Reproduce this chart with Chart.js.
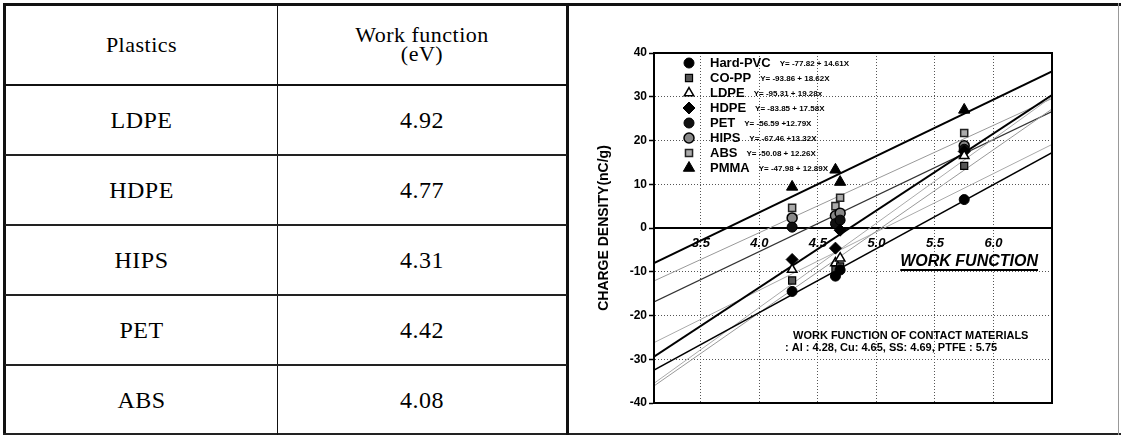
<!DOCTYPE html>
<html>
<head>
<meta charset="utf-8">
<script src="https://cdn.jsdelivr.net/npm/chart.js@4.4.0/dist/chart.umd.min.js"></script>
<style>
  html, body { margin: 0; padding: 0; background: #fff; }
  #page { position: relative; width: 1121px; height: 436px; overflow: hidden; background: #fff; }
  .ln { position: absolute; background: #111; }
  .cell {
    position: absolute; display: flex; align-items: center; justify-content: center;
    font-family: "Liberation Serif", "Times New Roman", serif; font-size: 24px; color: #000;
    letter-spacing: 0.5px; text-align: center; line-height: 0.85;
  }
  .head { font-size: 22px; }
  #chartBox { position: absolute; left: 570px; top: 7px; width: 546px; height: 425px; }
</style>
</head>
<body>
<div id="page">
  <div id="table"></div>
  <div id="chartBox"><canvas id="chargeChart" width="546" height="425"></canvas></div>
</div>
<script>
// tabela da esquerda
const tableHeaders = ["Plastics", "Work function<br>(eV)"];
const plastics = ["LDPE", "HDPE", "HIPS", "PET", "ABS"];
const workFunctions = ["4.92", "4.77", "4.31", "4.42", "4.08"];

// grafico: x = work function dos materiais de contato (Al, Cu, SS, PTFE)
const contactWF = [4.28, 4.65, 4.69, 5.75];
const seriesNames = ["Hard-PVC", "CO-PP", "LDPE", "HDPE", "PET", "HIPS", "ABS", "PMMA"];
const fitEquations = [
  "Y= -77.82 + 14.61X", "Y= -93.86 + 18.62X", "Y= -95.31 + 19.28x", "Y= -83.85 + 17.58X",
  "Y= -56.59 +12.79X", "Y= -67.46 +13.32X", "Y= -50.08 + 12.26X", "Y= -47.98 + 12.89X"
];
const hardPvc = [-14.5, -11.0, -9.6, 6.5];
const coPp = [-12.0, -9.5, -8.8, 14.2];
const ldpe = [-9.5, -8.0, -6.9, 16.5];
const hdpe = [-7.2, -4.6, -0.5, 17.5];
const pet = [0.2, 1.0, 1.8, 18.0];
const hips = [2.3, 2.8, 3.4, 18.8];
const abs = [4.6, 5.0, 6.9, 21.7];
const pmma = [9.4, 13.3, 10.5, 27.0];

const fitRange = [3.1, 6.5];
const hardPvcFit = [-32.5, 17.2];
const coPpFit = [-36.1, 27.2];
const ldpeFit = [-35.5, 30.0];
const hdpeFit = [-29.4, 30.4];
const petFit = [-16.9, 26.6];
const hipsFit = [-26.2, 19.1];
const absFit = [-12.1, 29.6];
const pmmaFit = [-8.0, 35.8];

const xTicks = [3.5, 4.0, 4.5, 5.0, 5.5, 6.0];
const yTicks = [-40, -30, -20, -10, 0, 10, 20, 30, 40];
const noteLines = ["WORK FUNCTION OF CONTACT MATERIALS", ": Al : 4.28, Cu: 4.65, SS: 4.69, PTFE : 5.75"];

const seriesValues = [hardPvc, coPp, ldpe, hdpe, pet, hips, abs, pmma];
const fitLines = [hardPvcFit, coPpFit, ldpeFit, hdpeFit, petFit, hipsFit, absFit, pmmaFit];

// monta a tabela
const page = document.getElementById("table");
function addDiv(cls, left, top, w, h, html, bg) {
  const d = document.createElement("div");
  d.className = cls;
  d.style.left = left + "px"; d.style.top = top + "px";
  d.style.width = w + "px"; d.style.height = h + "px";
  if (html) d.innerHTML = html;
  if (bg) d.style.background = bg;
  page.appendChild(d);
}
addDiv("cell head", 6, 6, 271, 78, tableHeaders[0]);
addDiv("cell head", 278, 6, 288, 78, tableHeaders[1]);
plastics.forEach((p, i) => {
  addDiv("cell", 6, 86 + i * 70, 271, 68, p);
  addDiv("cell", 278, 86 + i * 70, 288, 68, workFunctions[i]);
});
addDiv("ln", 3, 3, 1118, 3);
addDiv("ln", 3, 3, 3, 432);
addDiv("ln", 3, 433, 1118, 2, "", "#222");
addDiv("ln", 566, 3, 3, 432);
addDiv("ln", 1118, 3, 1, 432, "", "#999");
addDiv("ln", 277, 5, 1, 430);
addDiv("ln", 5, 84, 562, 2);
[154, 224, 294, 364].forEach(y => addDiv("ln", 5, y, 562, 2, "", "#222"));

// estilos dos marcadores e das retas
const markerStyle = [
  ["circle", 5, "#000", "#000", 1],
  ["rect", 5, "#555", "#000", 1.2],
  ["triangle", 5.5, "#fff", "#000", 1.5],
  ["rectRot", 6, "#000", "#000", 1],
  ["circle", 5, "#111", "#000", 1],
  ["circle", 5, "#888", "#000", 1.5],
  ["rect", 5, "#aaa", "#222", 1.5],
  ["triangle", 6.5, "#000", "#000", 1]
];
const lineStyle = [["#000", 1.5], ["#999", 1], ["#aaa", 1], ["#000", 2], ["#333", 1.2], ["#aaa", 1], ["#999", 1], ["#000", 2]];

const datasets = [];
seriesNames.forEach((name, i) => {
  const m = markerStyle[i];
  datasets.push({
    label: name,
    data: contactWF.map((x, j) => ({ x: x, y: seriesValues[i][j] })),
    showLine: false,
    pointStyle: m[0],
    pointRadius: m[1],
    pointBackgroundColor: m[2],
    pointBorderColor: m[3],
    pointBorderWidth: m[4],
    order: 0
  });
  datasets.push({
    label: name + " fit",
    data: fitRange.map((x, j) => ({ x: x, y: fitLines[i][j] })),
    showLine: true,
    pointRadius: 0,
    borderColor: lineStyle[i][0],
    borderWidth: lineStyle[i][1],
    order: 1
  });
});

const sans = "'Liberation Sans', Arial, sans-serif";

// legenda dentro da area do grafico
const innerLegend = {
  id: "innerLegend",
  afterDraw(chart) {
    const { ctx, chartArea } = chart;
    ctx.save();
    seriesNames.forEach((name, i) => {
      const y = chartArea.top + 10 + i * 15;
      const mx = chartArea.left + 35;
      const m = markerStyle[i];
      ctx.fillStyle = m[2];
      ctx.strokeStyle = m[3];
      ctx.lineWidth = m[4];
      if (Chart.helpers && Chart.helpers.drawPoint) {
        Chart.helpers.drawPoint(ctx, { pointStyle: m[0], radius: m[1], rotation: 0, borderWidth: m[4] }, mx, y);
      } else {
        ctx.beginPath(); ctx.arc(mx, y, m[1], 0, Math.PI * 2); ctx.fill(); ctx.stroke();
      }
      ctx.fillStyle = "#000";
      ctx.textBaseline = "middle";
      ctx.textAlign = "left";
      ctx.font = "bold 13px " + sans;
      const nx = chartArea.left + 56;
      ctx.fillText(name, nx, y);
      const w = ctx.measureText(name).width;
      ctx.font = "bold 8px " + sans;
      ctx.fillText(fitEquations[i], nx + w + 9, y + 1);
    });
    ctx.restore();
  }
};

// textos: WORK FUNCTION e nota dos materiais
const notes = {
  id: "notes",
  afterDraw(chart) {
    const { ctx, chartArea } = chart;
    ctx.save();
    ctx.fillStyle = "#000";
    ctx.strokeStyle = "#000";
    ctx.font = "italic bold 16px " + sans;
    ctx.textAlign = "right";
    ctx.textBaseline = "middle";
    const rx = chartArea.right - 14;
    const ty = chartArea.top + 209;
    ctx.fillText("WORK FUNCTION", rx, ty);
    const tw = ctx.measureText("WORK FUNCTION").width;
    ctx.lineWidth = 2;
    ctx.beginPath();
    ctx.moveTo(rx - tw, ty + 8);
    ctx.lineTo(rx, ty + 8);
    ctx.stroke();
    ctx.font = "bold 11px " + sans;
    ctx.textAlign = "left";
    ctx.fillText(noteLines[0], chartArea.left + 139, chartArea.top + 283);
    ctx.fillText(noteLines[1], chartArea.left + 131, chartArea.top + 295);
    // moldura do grafico
    ctx.lineWidth = 2;
    ctx.strokeRect(chartArea.left, chartArea.top, chartArea.right - chartArea.left, chartArea.bottom - chartArea.top);
    ctx.restore();
  }
};

const chargeCtx = document.getElementById("chargeChart").getContext("2d");
const chargeChart = new Chart(chargeCtx, {
  type: "scatter",
  data: { datasets: datasets },
  options: {
    responsive: false,
    animation: false,
    layout: { padding: { left: 26, top: 46, right: 64, bottom: 29 } },
    plugins: {
      legend: { display: false },
      tooltip: { enabled: false }
    },
    scales: {
      x: {
        type: "linear",
        min: 3.1,
        max: 6.5,
        position: { y: 0 },
        afterBuildTicks: s => { s.ticks = xTicks.map(v => ({ value: v })); },
        grid: { color: "#555", lineWidth: 1, drawTicks: false },
        border: { display: true, color: "#000", width: 2, dash: [1, 2] },
        ticks: {
          color: "#000",
          padding: 8,
          autoSkip: false,
          maxRotation: 0,
          font: { family: sans, size: 13, weight: "bold", style: "italic" },
          callback: v => Number(v).toFixed(1)
        }
      },
      y: {
        type: "linear",
        min: -40,
        max: 40,
        afterBuildTicks: s => { s.ticks = yTicks.map(v => ({ value: v })); },
        afterFit: s => { s.width = 58; },
        grid: { color: "#555", lineWidth: 1, tickLength: 5, tickColor: "#000", tickWidth: 1.5, tickBorderDash: [] },
        border: { display: true, color: "#000", width: 2, dash: [1, 2] },
        ticks: {
          color: "#000",
          padding: 2,
          font: { family: sans, size: 12, weight: "bold" }
        },
        title: {
          display: true,
          text: "CHARGE DENSITY(nC/g)",
          color: "#000",
          padding: 0,
          font: { family: sans, size: 14, weight: "bold" }
        }
      }
    }
  },
  plugins: [innerLegend, notes]
});
</script>
</body>
</html>
